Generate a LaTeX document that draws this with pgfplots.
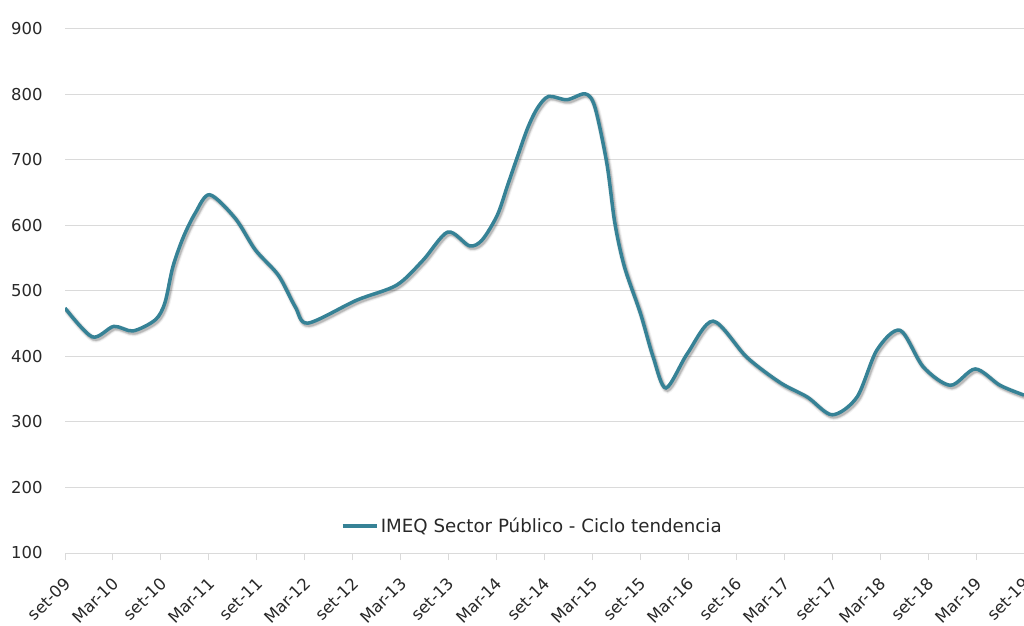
\documentclass[border=0pt]{standalone}
\usepackage{pgfplots}
\pgfplotsset{compat=1.18}
\usepackage{pgfplotstable}
\usepackage{fontspec}
\setmainfont{DejaVu Sans}
\definecolor{linec}{RGB}{54,130,150}
\definecolor{gridc}{RGB}{218,218,218}
\definecolor{txt}{RGB}{40,40,40}
\pgfplotstableread{
x y
0 474
3.4 430
6.1 446
8.5 439
11.3 456
12.5 482
13.5 537
14.8 582
16.3 619
18.1 647
21.3 611
23.8 563
26.7 524
28.8 476
30.4 451
36.5 486
41.5 509
44.8 547
47.9 590
50.6 569
52.2 578
54.1 616
55.4 662
56.7 708
57.9 749
59.1 779
60.5 797
62.8 792
65.1 801
66.3 781
67.8 695
68.8 604
70.0 537
72.0 466
73.6 399
75.2 352
77.9 405
81.1 454
85.3 399
89.5 360
92.9 338
96.0 311
99.1 338
101.6 410
104.5 440
107.4 384
110.8 356
113.9 381
117.0 356
120 341
}\datatable
\begin{document}
\begin{tikzpicture}
\useasboundingbox (0,0) rectangle (1024bp,626bp);
\begin{axis}[
  at={(65bp,73bp)}, anchor=south west,
  scale only axis, width=959bp, height=524bp,
  xmin=0, xmax=120, ymin=100, ymax=900,
  ytick={100,200,...,900},
  xtick={0,6,...,120},
  xticklabels={set-09,Mar-10,set-10,Mar-11,set-11,Mar-12,set-12,Mar-13,set-13,Mar-14,set-14,Mar-15,set-15,Mar-16,set-16,Mar-17,set-17,Mar-18,set-18,Mar-19,set-19},
  axis x line*=bottom, axis y line*=left,
  y axis line style={draw=none},
  x axis line style={gridc, line width=1bp},
  ytick style={draw=none},
  xtick style={gridc, line width=1bp},
  tick align=outside, major tick length=7bp,
  ymajorgrids, grid style={gridc, line width=1bp},
  tick label style={font=\fontsize{16.5}{19}\selectfont, text=txt},
  /pgf/number format/assume math mode=true,
  yticklabel style={xshift=-12bp},
  xticklabel style={xshift=5bp, yshift=-18bp, rotate=45, anchor=east},
  legend style={at={(0.4875,0.0515)}, anchor=center, draw=none, fill=none,
    font=\fontsize{18.3}{21}\selectfont, text=txt, inner sep=0pt,
    nodes={inner sep=2.5bp}},
  legend image code/.code={\draw[#1] (0bp,0bp) -- (34bp,0bp);},
]
\addplot[black, opacity=0.05, line width=7bp, smooth, forget plot, transform canvas={xshift=1.5bp,yshift=-2bp}] table[x=x,y=y]{\datatable};
\addplot[black, opacity=0.1, line width=5bp, smooth, forget plot, transform canvas={xshift=1.5bp,yshift=-2bp}] table[x=x,y=y]{\datatable};
\addplot[black, opacity=0.15, line width=3.5bp, smooth, forget plot, transform canvas={xshift=1.5bp,yshift=-2bp}] table[x=x,y=y]{\datatable};
\addplot[linec, line width=3.5bp, smooth] table[x=x,y=y]{\datatable};
\addlegendentry{IMEQ Sector Público - Ciclo tendencia}
\end{axis}
\end{tikzpicture}
\end{document}
